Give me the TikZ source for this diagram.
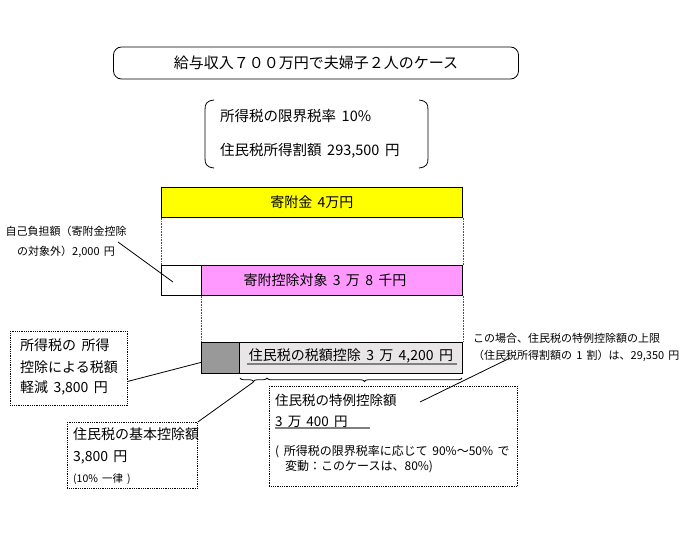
\documentclass[tikz,border=0pt]{standalone}
\usepackage{fontspec}
\setmainfont{Noto Sans CJK JP}[WordSpace=1.7]
\usetikzlibrary{decorations.pathreplacing}
\definecolor{yel}{HTML}{FFFF00}
\definecolor{pinkc}{HTML}{FF99FF}
\definecolor{dgray}{HTML}{999999}
\definecolor{lgray}{HTML}{E8E6E6}
\definecolor{ulgray}{HTML}{808080}
\begin{document}
\begin{tikzpicture}[x=1pt,y=-1pt,
  bar/.style={draw,line width=0.8pt,anchor=north west,inner sep=0pt,minimum height=30pt},
  vdot/.style={densely dotted,line width=0.6pt,black!70},
  dbox/.style={draw,densely dotted,line width=0.8pt,anchor=north west,inner sep=0pt},
  tx/.style={inner sep=0pt,anchor=west},
  big/.style={font=\fontsize{14}{16}\selectfont},
  mid/.style={font=\fontsize{12}{14}\selectfont},
  small/.style={font=\fontsize{11}{13}\selectfont},
  uline/.style={ulgray,line width=1.6pt},
  brc/.style={decorate,decoration={brace,mirror,amplitude=3.5pt},line width=0.8pt}
]
\useasboundingbox (0,0) rectangle (680,535);
% title
\node[draw,line width=0.8pt,rounded corners=8pt,minimum width=405pt,minimum height=32pt,inner sep=0pt,
  font=\fontsize{15}{17}\selectfont] (title) at (316,63) {給与収入７００万円で夫婦子２人のケース};
% bracket box
\draw[line width=0.8pt] (214,100) .. controls (206,101) and (205,104) .. (205,110) -- (205,158) .. controls (205,164) and (206,167) .. (214,168);
\draw[line width=0.8pt] (419,100) .. controls (427,101) and (428,104) .. (428,110) -- (428,158) .. controls (428,164) and (427,167) .. (419,168);
\node[tx,font=\fontsize{14.5}{16}\selectfont] (rate) at (220,116) {所得税の限界税率 10\%};
\node[tx,font=\fontsize{14.5}{16}\selectfont] (resid) at (220,151) {住民税所得割額 293,500 円};
% bars
\node[bar,fill=yel,minimum width=301pt,big] (kifu) at (161,187) {寄附金 4万円};
\node[bar,fill=white,minimum width=40pt] (self) at (161,265) {};
\node[bar,fill=pinkc,minimum width=261pt] (pink) at (201,265) {};
\node[tx,anchor=center,big] (pinktx) at (325,280) {寄附控除対象 3 万 8 千円};
\node[bar,fill=dgray,minimum width=38pt,minimum height=31pt] (dark) at (201,342) {};
\node[bar,fill=lgray,minimum width=223pt,minimum height=31pt] (light) at (239,342) {};
\node[tx,anchor=center,big] (lighttx) at (351,356) {住民税の税額控除 3 万 4,200 円};
\draw[uline] (247,364) -- (457,364);
% dotted verticals
\draw[vdot] (kifu.south west) -- (self.north west);
\draw[vdot] (kifu.south east) -- (pink.north east);
\draw[vdot] (pink.south west) -- (dark.north west);
\draw[vdot] (pink.south east) -- (light.north east);
% braces
\coordinate (b0) at (240,378);
\coordinate (b1) at (267,378);
\coordinate (b2) at (462,378);
\draw[brc] (b0) -- (b1);
\draw[brc] (b1) -- (b2);
\coordinate (tip1) at (253.5,382);
% self-burden note
\node[inner sep=0pt,align=center,font=\fontsize{11}{20}\selectfont] (selfnote) at (66,242) {自己負担額（寄附金控除\\の対象外）2,000 円};
\coordinate (selfpt) at (173,282);
\draw[line width=0.8pt] (118,242) -- (selfpt);
% box 1
\node[dbox,minimum width=117pt,minimum height=74pt] (box1) at (10,331) {};
\node[tx,big] (b1l1) at (20,345) {所得税の 所得};
\node[tx,big] (b1l2) at (20,367) {控除による税額};
\node[tx,big] (b1l3) at (20,388) {軽減 3,800 円};
\draw[line width=0.8pt] ([yshift=-13pt]box1.east) -- ([yshift=-4.5pt]dark.west);
% box 2
\node[dbox,minimum width=130pt,minimum height=66pt] (box2) at (67,422) {};
\node[tx,big] (b2l1) at (73,434) {住民税の基本控除額};
\node[tx,big] (b2l2) at (73,457) {3,800 円};
\node[tx,font=\fontsize{10.5}{12}\selectfont] (b2l3) at (73,479) {(10\% 一律 )};
\draw[line width=0.8pt] (box2.north east) -- (tip1);
% box 3
\node[dbox,minimum width=248pt,minimum height=100pt] (box3) at (269,386) {};
\node[tx,font=\fontsize{13.5}{15}\selectfont] (b3l1) at (275,400) {住民税の特例控除額};
\node[tx,font=\fontsize{13.5}{15}\selectfont] (b3l2) at (275,422) {3 万 400 円};
\draw[uline] (275,428) -- (370,428);
\node[tx,mid] (b3l3) at (275,452) {( 所得税の限界税率に応じて 90\%～50\% で};
\node[tx,mid] (b3l4) at (285,467) {変動：このケースは、80\%)};
% upper limit note
\node[tx,small] (lim1) at (473,338) {この場合、住民税の特例控除額の上限};
\node[tx,small] (lim2) at (473,356) {（住民税所得割額の 1 割）は、29,350 円};
\coordinate (limpt) at (510,358);
\coordinate (b3pt) at (420,402);
\draw[line width=0.8pt] (b3pt) -- (limpt);
\end{tikzpicture}
\end{document}
